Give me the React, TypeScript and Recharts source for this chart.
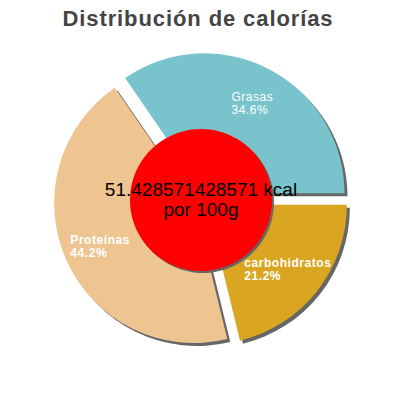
import { PieChart, Pie, Cell } from "recharts";

const title = "Distribución de calorías";
const categories = ["Grasas", "Proteínas", "carbohidratos"];
const shares = [34.6, 44.2, 21.2];
const energyLines = ["51.428571428571 kcal", "por 100g"];

const sliceColors = ["#79c4cc", "#eec591", "#daa520"];
const labelWeights = ["normal", "bold", "bold"];
const SHADOW_COLOR = "#666666";
const FONT = '"Liberation Sans", Arial, sans-serif';

const CX = 201;
const CY = 200;
const OUTER_R = 140;
const CENTER_R = 71;
const EXPLODE = 7.5;
const SHADOW = 3;
const LABEL_R = 103;
const RADIAN = Math.PI / 180;

const data = categories.map((name, i) => ({ name, value: shares[i] }));
const centerData = [{ name: "kcal", value: 1 }];
const total = shares.reduce((a, b) => a + b, 0);

// pull every slice out along its own mid angle (counter-clockwise from 3 o'clock)
const offsets = shares.map((v, i) => {
  const before = shares.slice(0, i).reduce((a, b) => a + b, 0);
  const mid = ((before + v / 2) / total) * 360 * RADIAN;
  return { dx: EXPLODE * Math.cos(mid), dy: -EXPLODE * Math.sin(mid) };
});

function textWidth(text: string, font: string, spacing: number) {
  const ctx = document.createElement("canvas").getContext("2d");
  if (!ctx) return text.length * 7;
  ctx.font = font;
  return ctx.measureText(text).width + spacing * text.length;
}

function renderSliceLabel(props: any, only: number) {
  const { cx, cy, midAngle, index, name, value } = props;
  if (index !== only) return null;
  const weight = labelWeights[index];
  const font = `${weight} 12px "Liberation Sans"`;
  const pct = `${value.toFixed(1)}%`;
  const w = Math.max(textWidth(name, font, 0.55), textWidth(pct, font, 0.55));
  const x = cx + LABEL_R * Math.cos(-midAngle * RADIAN) - w / 2;
  const y = cy + LABEL_R * Math.sin(-midAngle * RADIAN);
  return (
    <text
      x={x}
      y={y - 1.5}
      fill="#ffffff"
      textAnchor="start"
      style={{ fontSize: 12, fontWeight: weight, fontFamily: FONT, letterSpacing: 0.55 }}
    >
      <tspan x={x} dy={0}>{name}</tspan>
      <tspan x={x} dy={13}>{pct}</tspan>
    </text>
  );
}

function renderCenterLabel(props: any) {
  const { cx, cy } = props;
  return (
    <text
      x={cx}
      y={cy - 4}
      fill="#000000"
      textAnchor="middle"
      style={{ fontSize: 19, fontFamily: FONT }}
    >
      <tspan x={cx} dy={0}>{energyLines[0]}</tspan>
      <tspan x={cx} dy={20}>{energyLines[1]}</tspan>
    </text>
  );
}

export default function App() {
  return (
    <div style={{ position: "absolute", left: 0, top: 0, width: 400, height: 400, background: "#fff" }}>
      <div
        style={{
          position: "absolute",
          left: 0,
          top: 8,
          width: 396,
          textAlign: "center",
          fontFamily: FONT,
          fontWeight: "bold",
          fontSize: 22,
          lineHeight: "22px",
          letterSpacing: 0.9,
          color: "#444444",
        }}
      >
        {title}
      </div>
      <PieChart width={400} height={400} margin={{ top: 0, right: 0, bottom: 0, left: 0 }}>
        {offsets.map((o, i) => (
          <Pie
            key={`shadow-${i}`}
            data={data}
            dataKey="value"
            nameKey="name"
            cx={CX + o.dx + SHADOW}
            cy={CY + o.dy + SHADOW}
            startAngle={0}
            endAngle={360}
            innerRadius={0}
            outerRadius={OUTER_R}
            stroke="none"
            isAnimationActive={false}
          >
            {data.map((_, j) => (
              <Cell key={j} fill={j === i ? SHADOW_COLOR : "none"} stroke="none" />
            ))}
          </Pie>
        ))}
        {offsets.map((o, i) => (
          <Pie
            key={`slice-${i}`}
            data={data}
            dataKey="value"
            nameKey="name"
            cx={CX + o.dx}
            cy={CY + o.dy}
            startAngle={0}
            endAngle={360}
            innerRadius={0}
            outerRadius={OUTER_R}
            stroke="none"
            labelLine={false}
            label={(p: any) => renderSliceLabel(p, i)}
            isAnimationActive={false}
          >
            {data.map((_, j) => (
              <Cell key={j} fill={j === i ? sliceColors[j] : "none"} stroke="none" />
            ))}
          </Pie>
        ))}
        <Pie
          data={centerData}
          dataKey="value"
          cx={CX + SHADOW - 1}
          cy={CY + SHADOW - 1}
          outerRadius={CENTER_R}
          fill={SHADOW_COLOR}
          stroke="none"
          isAnimationActive={false}
        />
        <Pie
          data={centerData}
          dataKey="value"
          cx={CX}
          cy={CY}
          outerRadius={CENTER_R}
          fill="#ff0000"
          stroke="none"
          labelLine={false}
          label={renderCenterLabel}
          isAnimationActive={false}
        />
      </PieChart>
    </div>
  );
}
